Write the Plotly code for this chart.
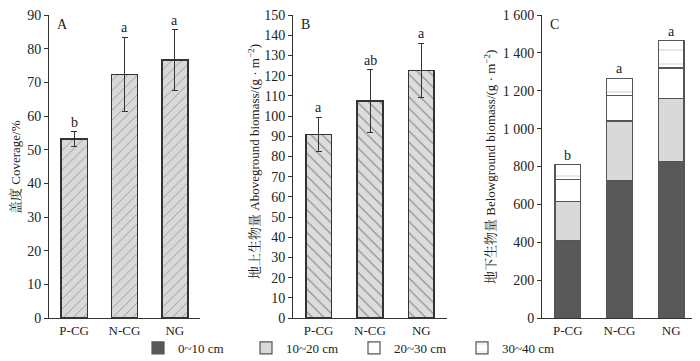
import plotly.graph_objects as go

# ---------------- data ----------------
categories = ["P-CG", "N-CG", "NG"]

coverage = [53.1, 72.3, 76.6]
coverage_err_plus = [2.2, 11.1, 9.0]
coverage_err_minus = [2.2, 11.1, 9.0]
coverage_letters = ["b", "a", "a"]

above = [90.8, 107.4, 122.5]
above_err = [8.6, 15.4, 13.4]
above_letters = ["a", "ab", "a"]

depth_labels = ["0~10 cm", "10~20 cm", "20~30 cm", "30~40 cm"]
below_0_10 = [408, 723, 827]
below_10_20 = [206, 317, 333]
below_20_30 = [118, 136, 160]
below_30_40 = [77, 90, 145]
below_letters = ["b", "a", "a"]

coverage_ticks = list(range(0, 91, 10))
above_ticks = list(range(0, 151, 10))
below_ticks = list(range(0, 1601, 200))
below_ticktext = ["0", "200", "400", "600", "800", "1 000", "1 200", "1 400", "1 600"]

# ---------------- figure ----------------
FONT = "Times New Roman, Liberation Serif, Noto Serif CJK SC, Noto Sans CJK SC, serif"
W, H = 700, 361
OFF = 8  # page body margin offset
TOP_PX, BOT_PX = 15, 318  # screen pixels of plot top/bottom
T = TOP_PX - OFF
B = H - (BOT_PX - OFF)
INK = "#333333"

fig = go.Figure()

def px(x):
    return (x - OFF) / W

def py(y):
    return (BOT_PX - y) / (BOT_PX - TOP_PX)

# Panel A
fig.add_trace(go.Bar(
    x=categories, y=coverage, xaxis="x", yaxis="y", width=0.52, showlegend=False,
    marker=dict(color="#d9d9d9", line=dict(color=INK, width=1.5),
                pattern=dict(shape="/", fgcolor="#555555", bgcolor="#d9d9d9", size=7, solidity=0.13)),
    error_y=dict(type="data", array=coverage_err_plus, arrayminus=coverage_err_minus,
                 color=INK, thickness=1, width=3),
))
# Panel B
fig.add_trace(go.Bar(
    x=categories, y=above, xaxis="x2", yaxis="y2", width=0.5, showlegend=False,
    marker=dict(color="#d9d9d9", line=dict(color=INK, width=1.5),
                pattern=dict(shape="\\", fgcolor="#444444", bgcolor="#dcdcdc", size=8, solidity=0.15)),
    error_y=dict(type="data", array=above_err, color=INK, thickness=1, width=3),
))
# Panel C stacked
stack_styles = [
    dict(color="#595959", pattern=dict(shape="")),
    dict(color="#d9d9d9", pattern=dict(shape="")),
    dict(color="#ffffff", pattern=dict(shape="")),
    dict(color="#ffffff", pattern=dict(shape="-", fgcolor="#aaaaaa", bgcolor="#ffffff", size=14, solidity=0.08)),
]
for name, vals, st in zip(depth_labels, [below_0_10, below_10_20, below_20_30, below_30_40], stack_styles):
    fig.add_trace(go.Bar(
        x=categories, y=vals, xaxis="x3", yaxis="y3", width=0.5, name=name,
        marker=dict(color=st["color"], line=dict(color="#555555", width=1.2), pattern=st["pattern"]),
    ))

fig.update_layout(
    width=W, height=H, barmode="stack",
    margin=dict(l=0, r=0, t=T, b=B),
    paper_bgcolor="white", plot_bgcolor="white",
    font=dict(family=FONT, size=13, color="#222222"),
    showlegend=True,
    legend=dict(orientation="h", x=px(354), y=py(348), xanchor="center", yanchor="middle",
                entrywidth=63, entrywidthmode="pixels", font=dict(size=13),
                traceorder="normal", itemclick=False, bgcolor="rgba(0,0,0,0)"),
)

axis_common = dict(showline=True, linecolor=INK, linewidth=1, showgrid=False, zeroline=False,
                   tickfont=dict(size=14), ticklabeloverflow="allow")
xa = dict(axis_common, ticks="", range=[-0.5, 2.5], tickfont=dict(size=13))
fig.update_layout(
    xaxis=dict(xa, domain=[px(49), px(200)], anchor="y"),
    xaxis2=dict(xa, domain=[px(293), px(447)], anchor="y2"),
    xaxis3=dict(xa, domain=[px(542), px(697)], anchor="y3"),
    yaxis=dict(axis_common, range=[0, 90], tickvals=coverage_ticks, ticks="outside", ticklen=4,
               tickcolor=INK, anchor="x"),
    yaxis2=dict(axis_common, range=[0, 150], tickvals=above_ticks, ticks="outside", ticklen=4,
                tickcolor=INK, anchor="x2"),
    yaxis3=dict(axis_common, range=[0, 1600], tickvals=below_ticks, ticktext=below_ticktext,
                ticks="outside", ticklen=4, tickcolor=INK, anchor="x3"),
)

# letters
for c, v, e, l in zip(categories, coverage, coverage_err_plus, coverage_letters):
    fig.add_annotation(x=c, y=v + e, xref="x", yref="y", text=l, showarrow=False,
                       yanchor="bottom", yshift=0, font=dict(size=14))
for c, v, e, l in zip(categories, above, above_err, above_letters):
    fig.add_annotation(x=c, y=v + e, xref="x2", yref="y2", text=l, showarrow=False,
                       yanchor="bottom", yshift=0, font=dict(size=14))
for i, (c, l) in enumerate(zip(categories, below_letters)):
    tot = below_0_10[i] + below_10_20[i] + below_20_30[i] + below_30_40[i]
    fig.add_annotation(x=c, y=tot, xref="x3", yref="y3", text=l, showarrow=False,
                       yanchor="bottom", yshift=0, font=dict(size=14))

# panel labels
for lab, ax in [("A", "x"), ("B", "x2"), ("C", "x3")]:
    fig.add_annotation(xref=f"{ax} domain", yref="paper", x=0.04, y=py(24), text=lab,
                       showarrow=False, xanchor="left", yanchor="middle", font=dict(size=14))

# axis titles
fig.add_annotation(xref="paper", yref="paper", x=px(15), y=py(167), text="盖度 Coverage/%",
                   textangle=-90, showarrow=False, xanchor="center", yanchor="middle",
                   font=dict(size=13))
fig.add_annotation(xref="paper", yref="paper", x=px(254), y=py(162),
                   text="地上生物量 Aboveground biomass/(g · m<sup>−2</sup>)",
                   textangle=-90, showarrow=False, xanchor="center", yanchor="middle",
                   font=dict(size=13))
fig.add_annotation(xref="paper", yref="paper", x=px(490), y=py(167),
                   text="地下生物量 Belowground biomass/(g · m<sup>−2</sup>)",
                   textangle=-90, showarrow=False, xanchor="center", yanchor="middle",
                   font=dict(size=13))

fig.write_html("out.html")
